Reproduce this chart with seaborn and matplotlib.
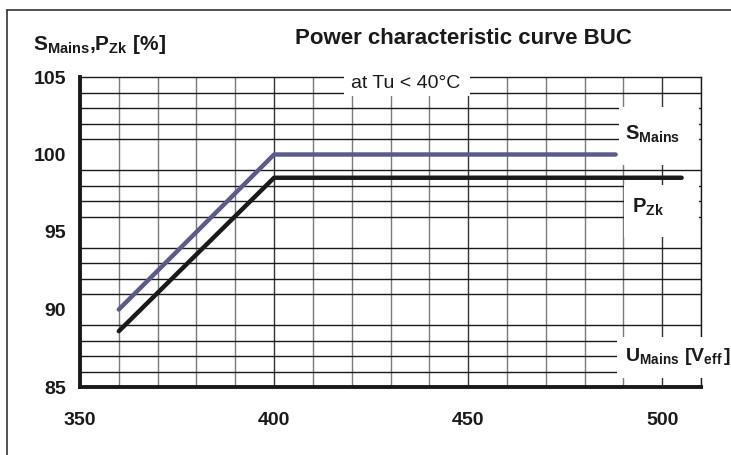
import numpy as np
import pandas as pd
import matplotlib
matplotlib.use("Agg")
import matplotlib.pyplot as plt
import seaborn as sns
from matplotlib.lines import Line2D
from matplotlib.patches import Rectangle

# data
s_mains_u = [360, 400, 488]
s_mains_val = [90.0, 100.0, 100.0]
p_zk_u = [360, 400, 505]
p_zk_val = [88.6, 98.5, 98.5]
x_ticks = [350, 400, 450, 500]
y_ticks = [85, 90, 95, 100, 105]

sns.set_style("white")
plt.rcParams['font.family'] = ['Liberation Sans', 'DejaVu Sans']
plt.rcParams['mathtext.fontset'] = 'custom'
plt.rcParams['mathtext.rm'] = 'Liberation Sans:bold'
plt.rcParams['mathtext.bf'] = 'Liberation Sans:bold'
plt.rcParams['mathtext.it'] = 'Liberation Sans:bold'

fig = plt.figure(figsize=(7.31, 4.55), dpi=100)
ax = fig.add_axes([80 / 731, 68 / 455, 621 / 731, 310 / 455])

df_s = pd.DataFrame({"U": s_mains_u, "val": s_mains_val})
df_p = pd.DataFrame({"U": p_zk_u, "val": p_zk_val})
sns.lineplot(data=df_s, x="U", y="val", ax=ax, color="#5b5a8c", linewidth=3.2, zorder=5)
sns.lineplot(data=df_p, x="U", y="val", ax=ax, color="#1a1a1a", linewidth=3.2, zorder=5)

ax.set_xlim(350, 510)
ax.set_ylim(85, 105)
ax.set_xticks(x_ticks)
ax.set_yticks(y_ticks)
ax.set_xticks(np.arange(350, 511, 10), minor=True)
ax.set_yticks(np.arange(85, 106, 1), minor=True)
ax.grid(which='minor', axis='y', color='#1a1a1a', linewidth=1.0)
ax.grid(which='minor', axis='x', color='#7a7a7a', linewidth=1.0)
ax.grid(which='major', axis='x', color='#333333', linewidth=1.0)
ax.set_axisbelow(True)

ax.tick_params(axis='both', which='minor', length=0)
ax.tick_params(axis='x', which='major', direction='inout', length=12, width=2.5,
               color='#1a1a1a', pad=12)
ax.tick_params(axis='y', which='major', direction='inout', length=12, width=2.5,
               color='#1a1a1a', pad=4)
for lab in ax.get_xticklabels() + ax.get_yticklabels():
    lab.set_fontweight('bold')
    lab.set_fontsize(14)
    lab.set_color('#1a1a1a')

for side in ['left', 'bottom']:
    ax.spines[side].set_linewidth(2.8)
    ax.spines[side].set_color('#1a1a1a')
for side in ['top', 'right']:
    ax.spines[side].set_linewidth(1.0)
    ax.spines[side].set_color('#1a1a1a')
ax.set_xlabel("")
ax.set_ylabel("")

# white label boxes that cut the grid
for (x0, x1, y0, y1) in [(418.0, 450.5, 103.8, 105.45),
                         (488.9, 509.6, 99.3, 103.05),
                         (490.2, 509.6, 94.7, 98.05),
                         (488.4, 518.0, 85.6, 88.25)]:
    ax.add_patch(Rectangle((x0, y0), x1 - x0, y1 - y0, facecolor='white',
                           edgecolor='none', zorder=3, clip_on=False))

ax.text(434, 104.6, "at Tu < 40°C", fontsize=14, ha='center', va='center',
        color='#1a1a1a', zorder=6)
ax.text(490.5, 101.3, r"$\mathrm{S_{Mains}}$", fontsize=14.5, ha='left', va='center',
        color='#1a1a1a', zorder=6)
ax.text(492.3, 96.6, r"$\mathrm{P_{Zk}}$", fontsize=14.5, ha='left', va='center',
        color='#1a1a1a', zorder=6)
ax.text(490.5, 86.95, r"$\mathrm{U_{Mains}\ [V_{eff}\,]}$", fontsize=14, ha='left',
        va='center', color='#1a1a1a', zorder=6, clip_on=False)

fig.text(33 / 731, 1 - 45 / 455, r"$\mathrm{S_{Mains}{,}P_{Zk}\ [\%]}$", fontsize=15,
         ha='left', va='center', color='#1a1a1a')
fig.text(463 / 731, 1 - 38 / 455, "Power characteristic curve BUC", fontsize=16,
         fontweight='bold', ha='center', va='center', color='#1a1a1a')

# outer frame (top and left edges visible)
fig.add_artist(Line2D([7 / 731, 1.0], [1 - 10 / 455, 1 - 10 / 455],
                      transform=fig.transFigure, color='#333333', linewidth=1.2))
fig.add_artist(Line2D([7 / 731, 7 / 731], [0.0, 1 - 10 / 455],
                      transform=fig.transFigure, color='#333333', linewidth=1.2))

fig.savefig("out.png", dpi=100)
